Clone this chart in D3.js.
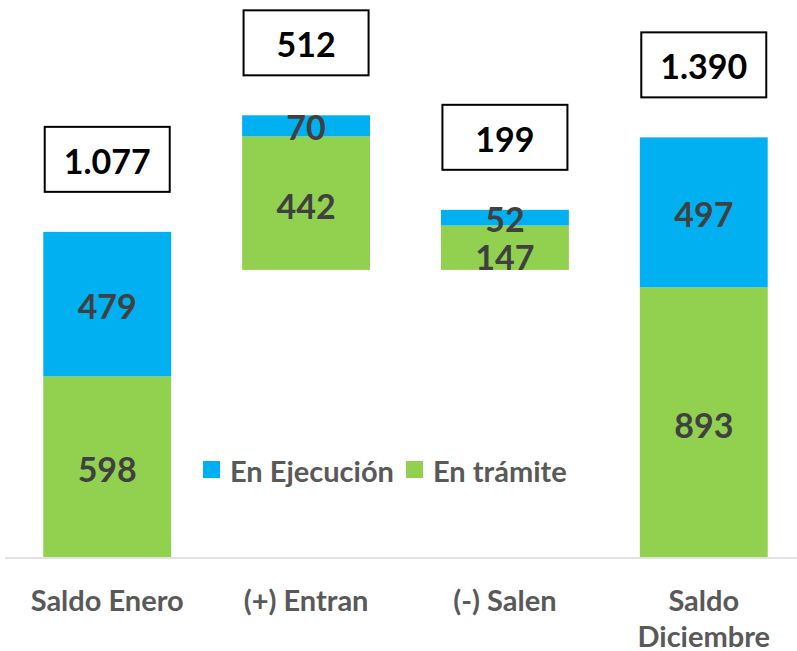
<!DOCTYPE html>
<html>
<head>
<meta charset="utf-8">
<script src="https://cdn.jsdelivr.net/npm/d3@7"></script>
<style>
  body { margin: 0; background: #fff; }
  text { font-family: Lato, "Open Sans", sans-serif; font-weight: bold; }
</style>
</head>
<body>
<div id="chart"></div>
<script>
// categories and values
const categories = ["Saldo Enero", "(+) Entran", "(-) Salen", "Saldo Diciembre"];
const enTramite = [598, 442, 147, 893];
const enEjecucion = [479, 70, 52, 497];
// invisible floating base of the waterfall
const base = [0, 951, 951, 0];
const seriesNames = ["En Ejecución", "En trámite"];

const width = 797;
const height = 651;
const baseline = 557;

const svg = d3
  .select("#chart")
  .append("svg")
  .attr("width", width)
  .attr("height", height);

const x = d3
  .scaleBand()
  .domain(categories)
  .range([7.5, 803.5])
  .paddingInner(0.357)
  .paddingOuter(0.18);

const y = d3.scaleLinear().domain([0, 1845]).range([baseline, 0]);

const color = { tramite: "#92D050", ejecucion: "#00B0F0" };

const fmt = d3.formatLocale({
  decimal: ",",
  thousands: ".",
  grouping: [3],
  currency: ["", ""],
}).format(",d");

const rows = categories.map((c, i) => ({
  cat: c,
  base: base[i],
  tramite: enTramite[i],
  ejecucion: enEjecucion[i],
  total: enTramite[i] + enEjecucion[i],
}));

// axis line
svg
  .append("line")
  .attr("x1", 5)
  .attr("x2", width)
  .attr("y1", baseline + 1)
  .attr("y2", baseline + 1)
  .attr("stroke", "#d9d9d9")
  .attr("stroke-width", 1.5);

const g = svg
  .selectAll(".cat")
  .data(rows)
  .join("g")
  .attr("class", "cat");

// green segment (En trámite)
g.append("rect")
  .attr("x", (d) => x(d.cat))
  .attr("width", x.bandwidth())
  .attr("y", (d) => y(d.base + d.tramite))
  .attr("height", (d) => y(d.base) - y(d.base + d.tramite))
  .attr("fill", color.tramite);

// blue segment (En Ejecución)
g.append("rect")
  .attr("x", (d) => x(d.cat))
  .attr("width", x.bandwidth())
  .attr("y", (d) => y(d.base + d.total))
  .attr("height", (d) => y(d.base + d.tramite) - y(d.base + d.total))
  .attr("fill", color.ejecucion);

// segment labels
g.append("text")
  .attr("x", (d) => x(d.cat) + x.bandwidth() / 2)
  .attr("y", (d) =>
    Math.max((y(d.base) + y(d.base + d.tramite)) / 2 + 2, y(d.base + d.tramite) + 31)
  )
  .attr("text-anchor", "middle")
  .attr("dominant-baseline", "central")
  .attr("font-size", 34)
  .attr("fill", "#404040")
  .text((d) => fmt(d.tramite));

g.append("text")
  .attr("x", (d) => x(d.cat) + x.bandwidth() / 2)
  .attr("y", (d) => (y(d.base + d.tramite) + y(d.base + d.total)) / 2 + 1)
  .attr("text-anchor", "middle")
  .attr("dominant-baseline", "central")
  .attr("font-size", 34)
  .attr("fill", "#404040")
  .text((d) => fmt(d.ejecucion));

// total boxes above the bars
const boxW = 125;
const boxH = 65;
const boxGap = 40;
g.append("rect")
  .attr("x", (d) => x(d.cat) + x.bandwidth() / 2 - boxW / 2)
  .attr("y", (d) => y(d.base + d.total) - boxGap - boxH)
  .attr("width", boxW)
  .attr("height", boxH)
  .attr("fill", "#fff")
  .attr("stroke", "#000")
  .attr("stroke-width", 2);

g.append("text")
  .attr("x", (d) => x(d.cat) + x.bandwidth() / 2)
  .attr("y", (d) => y(d.base + d.total) - boxGap - boxH / 2 + 1)
  .attr("text-anchor", "middle")
  .attr("dominant-baseline", "central")
  .attr("font-size", 34)
  .attr("fill", "#000")
  .text((d) => fmt(d.total));

// category labels, wrapped when too wide
const maxLabelW = 190;
g.append("text")
  .attr("x", (d) => x(d.cat) + x.bandwidth() / 2)
  .attr("y", 599)
  .attr("text-anchor", "middle")
  .attr("dominant-baseline", "central")
  .attr("font-size", 29)
  .attr("fill", "#595959")
  .each(function (d) {
    const t = d3.select(this);
    const cx = x(d.cat) + x.bandwidth() / 2;
    t.text(d.cat);
    if (this.getComputedTextLength() > maxLabelW) {
      const words = d.cat.split(" ");
      t.text(null);
      words.forEach((w, i) => {
        t.append("tspan")
          .attr("x", cx)
          .attr("dy", i === 0 ? 0 : 36)
          .text(w);
      });
    }
  });

// legend
const legendItems = [
  { name: seriesNames[0], color: color.ejecucion, x: 203 },
  { name: seriesNames[1], color: color.tramite, x: 406 },
];
const lg = svg
  .selectAll(".legend")
  .data(legendItems)
  .join("g")
  .attr("class", "legend")
  .attr("transform", (d) => `translate(${d.x},461)`);

lg.append("rect")
  .attr("width", 17)
  .attr("height", 17)
  .attr("fill", (d) => d.color);

lg.append("text")
  .attr("x", 27)
  .attr("y", 9)
  .attr("dominant-baseline", "central")
  .attr("font-size", 29)
  .attr("fill", "#595959")
  .text((d) => d.name);
</script>
</body>
</html>
